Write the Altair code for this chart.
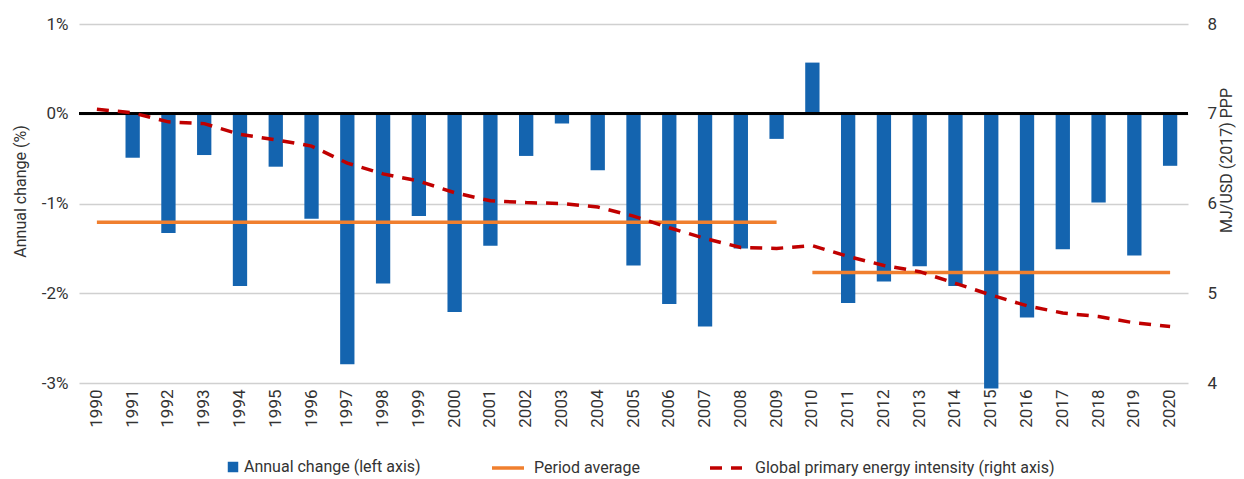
import altair as alt
import pandas as pd

years = [str(y) for y in range(1990, 2021)]
annual_change = [0.0, -0.49, -1.33, -0.46, -1.92, -0.59, -1.17, -2.79, -1.89, -1.14,
                 -2.21, -1.47, -0.47, -0.11, -0.63, -1.69, -2.12, -2.37, -1.50, -0.28,
                 0.57, -2.11, -1.87, -1.70, -1.92, -3.06, -2.27, -1.51, -0.99, -1.58, -0.58]
intensity = [7.05, 7.01, 6.91, 6.89, 6.77, 6.71, 6.64, 6.45, 6.33, 6.25,
             6.12, 6.03, 6.01, 6.00, 5.96, 5.86, 5.73, 5.61, 5.51, 5.50,
             5.53, 5.41, 5.31, 5.24, 5.11, 4.98, 4.86, 4.78, 4.74, 4.67, 4.63]
period_start = ["1990", "2010"]
period_end = ["2009", "2020"]
period_avg = [-1.21, -1.77]

S1 = "Annual change (left axis)"
S2 = "Period average"
S3 = "Global primary energy intensity (right axis)"
BLUE = "#1464AF"
ORANGE = "#F07F2E"
RED = "#C00000"
FONT = "Roboto"
TXT = "#333333"

bars_df = pd.DataFrame({"year": years, "change": annual_change, "series": S1})
line_df = pd.DataFrame({"year": years, "intensity": intensity, "series": S3})
avg_rows = []
for i in range(len(period_avg)):
    avg_rows.append({"year": period_start[i], "avg": period_avg[i], "period": i, "series": S2})
    avg_rows.append({"year": period_end[i], "avg": period_avg[i], "period": i, "series": S2})
avg_df = pd.DataFrame(avg_rows)

xscale = alt.Scale(domain=years, paddingInner=0.6, paddingOuter=0.3)
xaxis = alt.Axis(title=None, labelAngle=-90, ticks=False, domain=False, grid=False,
                 labelPadding=6, labelFontSize=17, labelColor=TXT)
yscale = alt.Scale(domain=[-3, 1])
yaxis = alt.Axis(title="Annual change (%)", values=[-3, -2, -1, 0, 1],
                 labelExpr="datum.value + '%'", grid=True, gridColor="#d0d0d0",
                 gridWidth=1.5, domain=False, ticks=False, labelPadding=11,
                 labelFontSize=17, labelColor=TXT, titleFontSize=16,
                 titleFontWeight="normal", titleColor=TXT, titleX=-59, titleY=167,
                 titleAlign="center", titleBaseline="middle", titleAngle=270)

LEG_C = 442
common_leg = dict(title=None, orient="none", labelFontSize=16,
                  labelColor=TXT, labelLimit=0)

bars = alt.Chart(bars_df).mark_bar(clip=False).encode(
    x=alt.X("year:O", scale=xscale, axis=xaxis),
    y=alt.Y("change:Q", scale=yscale, axis=yaxis),
    fill=alt.Fill("series:N", scale=alt.Scale(domain=[S1], range=[BLUE]),
                  legend=alt.Legend(legendX=146, legendY=LEG_C - 7, symbolType="square",
                                    symbolSize=110, labelOffset=3, **common_leg)),
)

zero = alt.Chart(bars_df).mark_rule(color="black", strokeWidth=2).encode(
    y=alt.datum(0)
)

avg = alt.Chart(avg_df).mark_line(strokeWidth=3.5).encode(
    x=alt.X("year:O", scale=xscale, axis=xaxis),
    y=alt.Y("avg:Q", scale=yscale, axis=yaxis),
    detail="period:N",
    stroke=alt.Stroke("series:N", scale=alt.Scale(domain=[S2], range=[ORANGE]),
                      legend=alt.Legend(legendX=411, legendY=LEG_C - 16, symbolType="stroke",
                                        symbolSize=1024, symbolStrokeWidth=3.5,
                                        labelOffset=8, **common_leg)),
)

left = alt.layer(bars, zero, avg)

right = alt.Chart(line_df).mark_line(strokeWidth=3.5, color=RED).encode(
    x=alt.X("year:O", scale=xscale, axis=xaxis),
    y=alt.Y("intensity:Q", scale=alt.Scale(domain=[4, 8]),
            axis=alt.Axis(title="MJ/USD (2017) PPP", orient="right", values=[4, 5, 6, 7, 8],
                          grid=False, domain=False, ticks=False, labelPadding=19,
                          labelFontSize=17, labelColor=TXT, titleFontSize=16,
                          titleFontWeight="normal", titleColor=TXT, titleAngle=270,
                          titleX=38, titleY=136, titleAlign="center",
                          titleBaseline="middle")),
    strokeDash=alt.StrokeDash("series:N", scale=alt.Scale(domain=[S3], range=[[12, 9]]),
                              legend=alt.Legend(legendX=629, legendY=LEG_C - 16,
                                                symbolType="stroke", symbolSize=1024,
                                                symbolStrokeWidth=3.5, symbolDash=[8, 14],
                                                symbolStrokeColor=RED, labelOffset=11,
                                                **common_leg)),
)

chart = alt.layer(left, right).resolve_scale(y="independent").properties(
    width=1109, height=359,
    padding={"left": 71, "top": 16, "right": 48, "bottom": 96},
    autosize=alt.AutoSizeParams(type="none"),
).configure(font=FONT).configure_view(stroke=None)

chart.save("out.html", embed_options={"renderer": "svg", "actions": False})
